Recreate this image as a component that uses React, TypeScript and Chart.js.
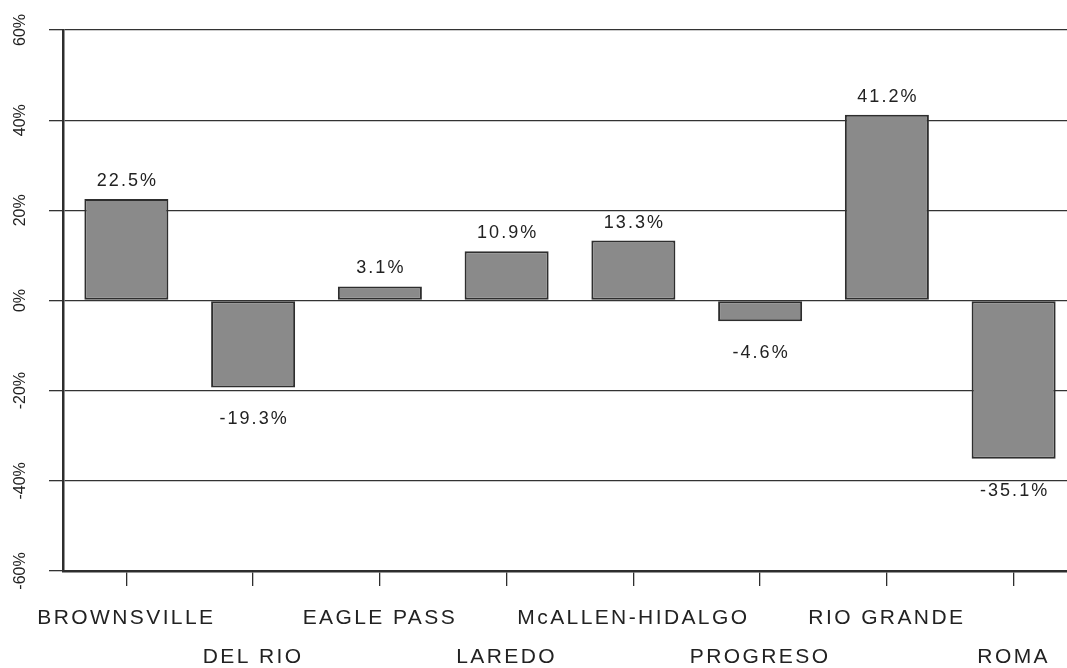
import React, { useEffect, useRef } from "react";
import { Chart, registerables } from "chart.js";

Chart.register(...registerables);

// ---- data ----
const CATEGORIES = [
  "BROWNSVILLE",
  "DEL RIO",
  "EAGLE PASS",
  "LAREDO",
  "McALLEN-HIDALGO",
  "PROGRESO",
  "RIO GRANDE",
  "ROMA",
];
const CHANGE_PCT = [22.5, -19.3, 3.1, 10.9, 13.3, -4.6, 41.2, -35.1];
const Y_TICKS = [-60, -40, -20, 0, 20, 40, 60];

const FONT = '"Liberation Sans", Arial, Helvetica, sans-serif';
const INK = "#222222";
const LINE = "#2e2e2e";

const valueLabels = {
  id: "valueLabels",
  afterDatasetsDraw(chart: any) {
    const ctx = chart.ctx;
    const meta = chart.getDatasetMeta(0);
    const data = chart.data.datasets[0].data as number[];
    ctx.save();
    ctx.font = `18px ${FONT}`;
    ctx.fillStyle = INK;
    ctx.textAlign = "center";
    ctx.textBaseline = "middle";
    ctx.letterSpacing = "2px";
    meta.data.forEach((bar: any, i: number) => {
      const v = data[i];
      const y = v >= 0 ? bar.y - 18 : bar.y + 32;
      ctx.fillText(v.toFixed(1) + "%", bar.x + 1, y);
    });
    ctx.restore();
    // x-axis labels (drawn in a later layer) use a wider spacing
    ctx.letterSpacing = "2.4px";
  },
  afterDraw(chart: any) {
    chart.ctx.letterSpacing = "0px";
  },
};

export default function App() {
  const ref = useRef<HTMLCanvasElement | null>(null);

  useEffect(() => {
    if (!ref.current) return;
    const labels = CATEGORIES.map((c, i) => (i % 2 ? ["", c] : [c]));
    const chart = new Chart(ref.current, {
      type: "bar",
      data: {
        labels,
        datasets: [
          {
            data: CHANGE_PCT,
            backgroundColor: "#8a8a8a",
            borderColor: "#2e2e2e",
            borderWidth: 2,
            borderSkipped: false,
            barPercentage: 0.663,
            categoryPercentage: 1,
          },
        ],
      },
      options: {
        animation: false,
        responsive: false,
        maintainAspectRatio: false,
        layout: { padding: { top: 30, left: 0, right: 0, bottom: 0 } },
        plugins: {
          legend: { display: false },
          tooltip: { enabled: false },
        },
        scales: {
          x: {
            offset: true,
            grid: {
              offset: false,
              drawOnChartArea: false,
              drawTicks: true,
              tickLength: 15,
              color: LINE,
              lineWidth: 1.3,
            },
            border: { color: LINE, width: 2.5 },
            ticks: {
              autoSkip: false,
              maxRotation: 0,
              minRotation: 0,
              padding: 13,
              color: INK,
              font: { family: FONT, size: 21, lineHeight: "38.5px" },
              z: 1,
            },
            afterFit: (s: any) => {
              s.height = 97;
            },
          },
          y: {
            min: -60,
            max: 60,
            afterBuildTicks: (s: any) => {
              s.ticks = Y_TICKS.map((v) => ({ value: v }));
            },
            ticks: {
              callback: (v: any) => v + "%",
              minRotation: 90,
              maxRotation: 90,
              crossAlign: "center",
              padding: 10,
              color: INK,
              font: { family: FONT, size: 16 },
            },
            grid: {
              color: "#333333",
              lineWidth: 1.3,
              tickLength: 14,
              drawTicks: true,
            },
            border: { color: LINE, width: 2.5 },
            afterFit: (s: any) => {
              s.width = 63;
            },
          },
        },
      } as any,
      plugins: [valueLabels],
    });
    return () => chart.destroy();
  }, []);

  return (
    <div
      style={{
        position: "absolute",
        left: 0,
        top: 0,
        width: 1067,
        height: 668,
        overflow: "hidden",
        background: "#ffffff",
      }}
    >
      <canvas ref={ref} width={1077} height={668} style={{ display: "block" }} />
    </div>
  );
}
